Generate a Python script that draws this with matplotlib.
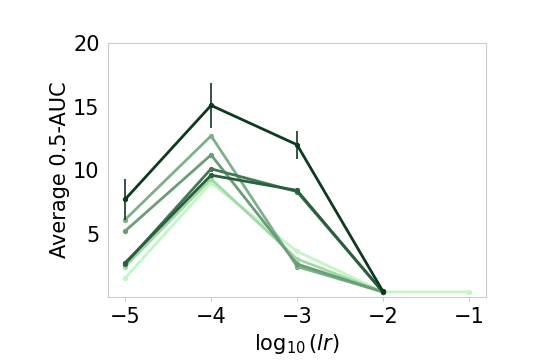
import numpy as np
import matplotlib
matplotlib.use("Agg")
import matplotlib.pyplot as plt

log_lr = [-5, -4, -3, -2, -1]
nan = np.nan

s1 = [7.7, 15.1, 12.0, 0.45, nan]
s1_err = [1.6, 1.8, 1.1, 0.0, nan]
s2 = [2.7, 9.6, 8.4, 0.4, nan]
s3 = [2.6, 10.1, 8.3, 0.4, nan]
s4 = [5.2, 11.2, 2.6, 0.4, nan]
s5 = [6.1, 12.7, 2.4, 0.4, nan]
s6 = [2.4, 9.3, 3.0, 0.4, nan]
s7 = [1.5, 9.0, 3.6, 0.4, 0.4]

series = [s7, s6, s5, s4, s3, s2]
colors = ["#c4f5c4", "#a3d9a8", "#7fb08c", "#6a9e78", "#3f7a55", "#2a5e3f"]

fig = plt.figure(figsize=(5.4, 3.6), dpi=100)
ax = fig.add_axes([0.2, 0.175, 0.7, 0.705])

for s, c in zip(series, colors):
    ax.plot(log_lr, s, color=c, lw=2, marker="o", ms=2.8)

ax.errorbar(log_lr, s1, yerr=s1_err, color="#0b3a20", lw=2, marker="o", ms=2.8,
            elinewidth=1.2, capsize=0)

ax.set_xlim(-5.2, -0.8)
ax.set_ylim(0, 20)
ax.set_xticks([-5, -4, -3, -2, -1])
ax.set_xticklabels(["\u22125", "\u22124", "\u22123", "\u22122", "\u22121"])
ax.set_yticks([5, 10, 15, 20])
ax.tick_params(axis="both", labelsize=15)
ax.tick_params(axis="x", length=3, color="#cccccc", pad=4)
ax.tick_params(axis="y", length=0, pad=6)
for sp in ax.spines.values():
    sp.set_color("#cccccc")
ax.set_xlabel(r"$\log_{10}(lr)$", fontsize=15)
ax.set_ylabel("Average 0.5-AUC", fontsize=15, labelpad=2)

fig.savefig("out.png", dpi=100)
